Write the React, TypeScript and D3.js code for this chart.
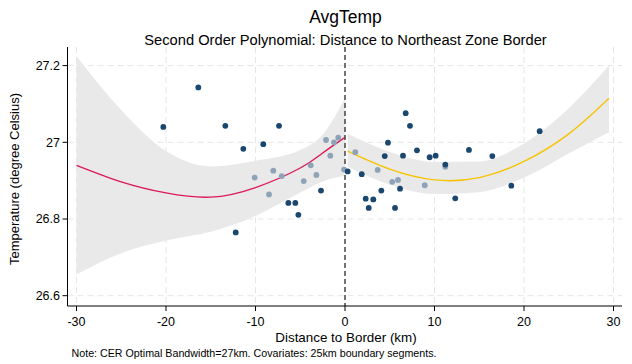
import React from "react";
import * as d3 from "d3";

// ---- data ----
const darkPoints: [number, number][] = [
  [-20.3, 27.04], [-16.39, 27.143], [-13.37, 27.043], [-7.37, 27.043], [-11.36, 26.983],
  [-9.13, 26.995], [-2.68, 26.874], [-6.33, 26.842], [-5.55, 26.842], [-5.21, 26.811],
  [-12.21, 26.765], [0.3, 26.924],
  [6.78, 27.076], [7.26, 27.043], [4.8, 26.999], [4.44, 26.964], [6.48, 26.965],
  [8.04, 26.979], [9.46, 26.961], [10.13, 26.965], [11.21, 26.942], [13.85, 26.98],
  [16.46, 26.964], [21.75, 27.029], [18.58, 26.887], [12.32, 26.854], [1.87, 26.917],
  [2.31, 26.853], [2.65, 26.829], [3.16, 26.851], [4.06, 26.874], [5.59, 26.829],
  [6.15, 26.879],
];
const lightPoints: [number, number][] = [
  [-10.09, 26.908], [-8.01, 26.926], [-8.49, 26.864], [-7.07, 26.912], [-4.61, 26.899],
  [-3.83, 26.94], [-3.2, 26.915], [-2.12, 27.006], [-1.64, 26.965], [-1.23, 27.0],
  [-0.75, 27.012], [-0.11, 26.929],
  [1.15, 26.974], [3.65, 26.928], [5.28, 26.897], [5.92, 26.902], [8.91, 26.888],
  [11.21, 26.936],
];

const leftDist = [-30, -25, -20, -15, -10, -5, -2.5, 0];
const leftFit = [26.94, 26.897, 26.868, 26.857, 26.882, 26.933, 26.972, 27.013];
const leftUpper = [27.225, 27.084, 26.977, 26.937, 26.952, 26.98, 27.02, 27.115];
const leftLower = [26.655, 26.711, 26.744, 26.767, 26.808, 26.869, 26.898, 26.913];

const rightDist = [0.3, 5, 10, 15, 20, 25, 29.5];
const rightFit = [26.977, 26.93, 26.902, 26.908, 26.95, 27.022, 27.115];
const rightUpper = [27.022, 26.975, 26.949, 26.95, 26.997, 27.089, 27.2];
const rightLower = [26.936, 26.889, 26.865, 26.87, 26.908, 26.971, 27.026];

const xTicks = [-30, -20, -10, 0, 10, 20, 30];
const yTicks = [26.6, 26.8, 27, 27.2];

const W = 632;
const H = 364;
const FONT = "'Liberation Sans', Arial, Helvetica, sans-serif";

export default function App() {
  const plotLeft = 67.5;
  const plotRight = 622;
  const plotTop = 47;
  const plotBottom = 306;

  const x = d3.scaleLinear().domain([-30, 30]).range([76.5, 613.5]);
  const y = d3.scaleLinear().domain([27, 27.2]).range([142.3, 65.6]);

  const area = d3
    .area<[number, number, number]>()
    .x((d) => x(d[0]))
    .y0((d) => y(d[2]))
    .y1((d) => y(d[1]))
    .curve(d3.curveMonotoneX);
  const line = d3
    .line<[number, number]>()
    .x((d) => x(d[0]))
    .y((d) => y(d[1]))
    .curve(d3.curveNatural);

  const leftBand = leftDist.map((d, i) => [d, leftUpper[i], leftLower[i]] as [number, number, number]);
  const rightBand = rightDist.map((d, i) => [d, rightUpper[i], rightLower[i]] as [number, number, number]);
  const leftLine = leftDist.map((d, i) => [d, leftFit[i]] as [number, number]);
  const rightLine = rightDist.map((d, i) => [d, rightFit[i]] as [number, number]);

  const gridColor = "#e6e6e6";

  return (
    <svg
      width={W}
      height={H}
      style={{ position: "fixed", left: 0, top: 0, background: "#fff" }}
      fontFamily={FONT}
    >
      <rect x={0} y={0} width={W} height={H} fill="#fff" />
      {/* gridlines */}
      {yTicks.map((t) => (
        <line key={"gy" + t} x1={plotLeft} x2={plotRight} y1={y(t)} y2={y(t)}
          stroke={gridColor} strokeWidth={1} strokeDasharray="6 4" />
      ))}
      {xTicks.filter((t) => t !== 0).map((t) => (
        <line key={"gx" + t} x1={x(t)} x2={x(t)} y1={plotTop} y2={plotBottom}
          stroke={gridColor} strokeWidth={1} strokeDasharray="6 4" />
      ))}

      {/* confidence bands */}
      <path d={area(leftBand) || ""} fill="#e9e9e9" />
      <path d={area(rightBand) || ""} fill="#e9e9e9" />

      {/* fitted lines */}
      <path d={line(leftLine) || ""} fill="none" stroke="#dc1a58" strokeWidth={1.4} />
      <path d={line(rightLine) || ""} fill="none" stroke="#f5c400" strokeWidth={1.4} />

      {/* cutoff */}
      <line x1={x(0)} x2={x(0)} y1={plotTop} y2={plotBottom} stroke="#444" strokeWidth={1.5}
        strokeDasharray="5 3" />

      {/* points */}
      {lightPoints.map((p, i) => (
        <circle key={"l" + i} cx={x(p[0])} cy={y(p[1])} r={2.9} fill="#8fa3b8" />
      ))}
      {darkPoints.map((p, i) => (
        <circle key={"d" + i} cx={x(p[0])} cy={y(p[1])} r={2.9} fill="#1a476f" />
      ))}

      {/* axes */}
      <line x1={plotLeft} x2={plotLeft} y1={plotTop} y2={plotBottom} stroke="#000" strokeWidth={1} />
      <line x1={plotLeft} x2={plotRight} y1={plotBottom} y2={plotBottom} stroke="#000" strokeWidth={1} />
      {yTicks.map((t) => (
        <g key={"ty" + t}>
          <line x1={plotLeft - 5} x2={plotLeft} y1={y(t)} y2={y(t)} stroke="#000" strokeWidth={1} />
          <text x={60} y={y(t)} dy="0.35em" textAnchor="end" fontSize={12.5} fill="#000">
            {d3.format("")(t)}
          </text>
        </g>
      ))}
      {xTicks.map((t) => (
        <g key={"tx" + t}>
          <line x1={x(t)} x2={x(t)} y1={plotBottom} y2={plotBottom + 5} stroke="#000" strokeWidth={1} />
          <text x={x(t)} y={325.5} textAnchor="middle" fontSize={12.5} fill="#000">
            {t}
          </text>
        </g>
      ))}

      {/* titles */}
      <text x={345.5} y={23} textAnchor="middle" fontSize={17.5} fill="#000">AvgTemp</text>
      <text x={345.5} y={45} textAnchor="middle" fontSize={14.7} fill="#000">
        Second Order Polynomial: Distance to Northeast Zone Border
      </text>
      <text x={346} y={342} textAnchor="middle" fontSize={13.4} fill="#000">
        Distance to Border (km)
      </text>
      <text transform="translate(18.5,179) rotate(-90)" textAnchor="middle" fontSize={13} fill="#000">
        Temperature (degree Celsius)
      </text>
      <text x={71.5} y={357} fontSize={10.7} fill="#000">
        Note: CER Optimal Bandwidth=27km. Covariates: 25km boundary segments.
      </text>
    </svg>
  );
}
